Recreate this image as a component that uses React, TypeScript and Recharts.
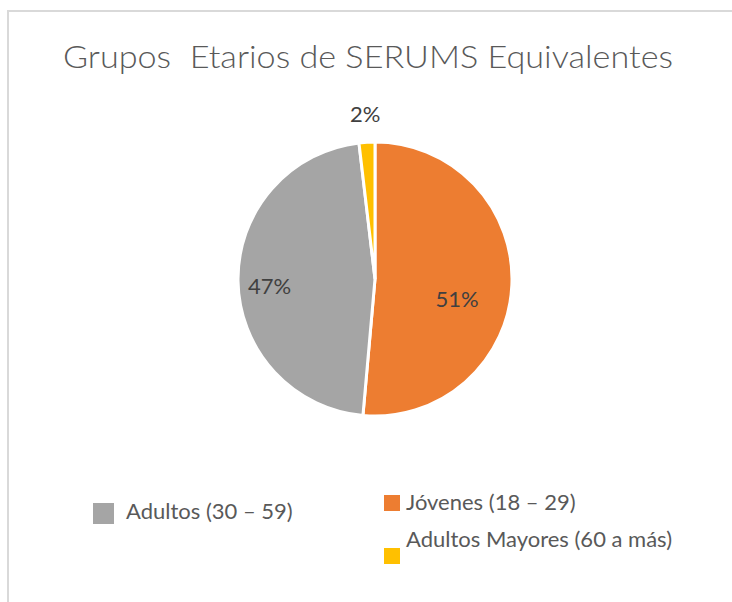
import { PieChart, Pie, Cell, Legend } from "recharts"

const GROUPS = ["Jóvenes (18 – 29)", "Adultos (30 – 59)", "Adultos Mayores (60 a más)"]
const COUNTS = [55, 50, 2]
const COLORS = ["#ED7D31", "#A5A5A5", "#FFC000"]

const TITLE = "Grupos  Etarios de SERUMS Equivalentes"

const data = GROUPS.map((name, i) => ({ name, value: COUNTS[i] }))

// where each percent label sits: fraction of radius along the slice middle, plus a nudge
const LABEL_POS = [
  { r: 0.6, dy: 16 },
  { r: 0.77, dy: 5 },
  { r: 1.21, dy: 0 },
]

// legend is laid out by hand like the Excel one
const LEGEND_SPOTS: Record<string, { x: number; y: number; box: number; boxTop: number; gap: number }> = {
  "Jóvenes (18 – 29)": { x: 384, y: 502, box: 16, boxTop: 495, gap: 6 },
  "Adultos (30 – 59)": { x: 93, y: 511, box: 21, boxTop: 503, gap: 12 },
  "Adultos Mayores (60 a más)": { x: 384, y: 539, box: 16, boxTop: 548, gap: 6 },
}

const FONT = "Lato, 'Open Sans', sans-serif"
const RAD = Math.PI / 180

function renderLabel(props: any) {
  const { cx, cy, midAngle, outerRadius, percent, index } = props
  const pos = LABEL_POS[index] ?? { r: 0.7, dy: 0 }
  const rr = outerRadius * pos.r
  const x = cx + rr * Math.cos(-midAngle * RAD)
  const y = cy + rr * Math.sin(-midAngle * RAD) + pos.dy
  return (
    <text
      x={x}
      y={y}
      textAnchor="middle"
      dominantBaseline="central"
      fill="#404040"
      fontSize={22}
      fontFamily={FONT}
    >
      {`${Math.round(percent * 100)}%`}
    </text>
  )
}

function LegendContent({ payload }: any) {
  return (
    <div style={{ position: "relative", width: 0, height: 0 }}>
      {(payload ?? []).map((entry: any) => {
        const spot = LEGEND_SPOTS[entry.value]
        if (!spot) return null
        return (
          <div key={entry.value}>
            <div
              style={{
                position: "absolute",
                left: spot.x,
                top: spot.boxTop,
                width: spot.box,
                height: spot.box,
                background: entry.color,
              }}
            />
            <div
              style={{
                position: "absolute",
                left: spot.x + spot.box + spot.gap,
                top: spot.y - 14,
                height: 28,
                lineHeight: "28px",
                whiteSpace: "nowrap",
                fontFamily: FONT,
                fontSize: 22,
                color: "#595959",
              }}
            >
              {entry.value}
            </div>
          </div>
        )
      })}
    </div>
  )
}

export default function App() {
  return (
    <div style={{ position: "absolute", left: 0, top: 0, width: 732, height: 602, background: "#fff", overflow: "hidden" }}>
      {/* chart frame */}
      <div
        style={{
          position: "absolute",
          left: 7,
          top: 10,
          width: 740,
          height: 620,
          borderTop: "2px solid #d9d9d9",
          borderLeft: "2px solid #d9d9d9",
        }}
      />
      <svg width={732} height={602} style={{ position: "absolute", left: 0, top: 0 }}>
        <text x={63} y={68} fontFamily={FONT} fontSize={31} fontWeight={300} fill="#595959" textLength={610} lengthAdjust="spacingAndGlyphs" xmlSpace="preserve">
          {TITLE}
        </text>
      </svg>
      <div style={{ position: "absolute", left: 0, top: 0 }}>
        <PieChart width={732} height={602} margin={{ top: 0, right: 0, bottom: 0, left: 0 }}>
          <Pie
            data={data}
            dataKey="value"
            nameKey="name"
            cx={375}
            cy={279}
            outerRadius={137}
            startAngle={90}
            endAngle={-270}
            stroke="#ffffff"
            strokeWidth={3}
            labelLine={false}
            label={renderLabel}
            isAnimationActive={false}
          >
            {data.map((d, i) => (
              <Cell key={d.name} fill={COLORS[i]} />
            ))}
          </Pie>
          <Legend
            content={<LegendContent />}
            wrapperStyle={{ position: "absolute", left: 0, top: 0, width: 0, height: 0, overflow: "visible" }}
          />
        </PieChart>
      </div>
    </div>
  )
}
